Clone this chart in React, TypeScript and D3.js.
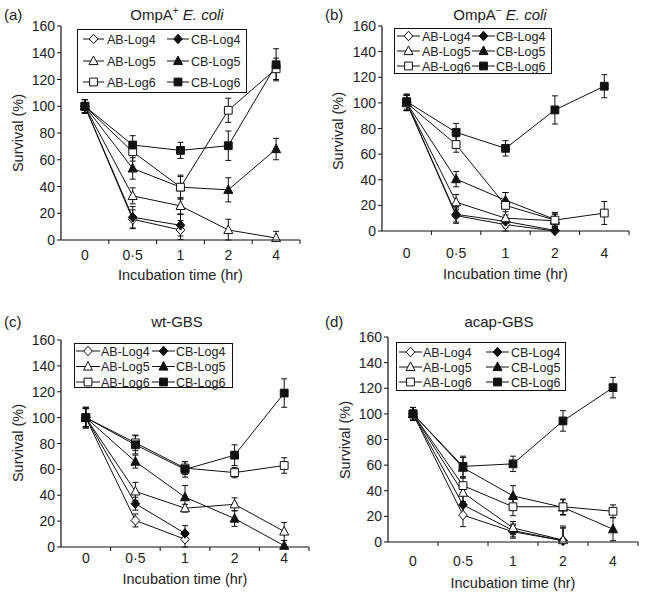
import React from "react";
import * as d3 from "d3";

// ---------- data ----------
const categories = ["0", "0·5", "1", "2", "4"];
const yTicks = [0, 20, 40, 60, 80, 100, 120, 140, 160];
const seriesNames = ["AB-Log4", "CB-Log4", "AB-Log5", "CB-Log5", "AB-Log6", "CB-Log6"];
const legendCol1 = ["AB-Log4", "AB-Log5", "AB-Log6"];
const legendCol2 = ["CB-Log4", "CB-Log5", "CB-Log6"];
const panelLetters = ["(a)", "(b)", "(c)", "(d)"];

// (a) OmpA+ E. coli — rows follow seriesNames
const aValues: (number | null)[][] = [
  [100, 15.5, 7.5, null, null],
  [100, 17, 11, null, null],
  [100, 33, 25.5, 7.5, 1.5],
  [100, 53.5, 39.5, 37.5, 68],
  [100, 66, 39.5, 97, 128],
  [100, 71, 67, 70.5, 131],
];
const aErrors: number[][] = [
  [5, 7, 7, 0, 0],
  [5, 8, 8, 0, 0],
  [5, 6, 6, 8, 5],
  [5, 8, 8, 9, 8],
  [5, 7, 9, 9, 8],
  [5, 7, 6, 11, 12],
];

// (b) OmpA− E. coli
const bValues: (number | null)[][] = [
  [100, 12, 5, 0, null],
  [100, 13, 7.5, 0.5, null],
  [100, 22.5, 10, 8, null],
  [100, 40.5, 24, 9, null],
  [100, 67.5, 20, 8.5, 14],
  [101, 77, 64.5, 94.5, 113],
];
const bErrors: number[][] = [
  [6, 6, 5, 3, 0],
  [6, 6, 5, 3, 0],
  [6, 6, 5, 5, 0],
  [6, 6, 6, 5, 0],
  [6, 6, 10, 6, 9],
  [6, 7, 6, 11, 9],
];

// (c) wt-GBS
const cValues: (number | null)[][] = [
  [100, 20.5, 6, null, null],
  [100, 33.5, 10.5, null, null],
  [100, 43, 30, 33, 12],
  [100, 66, 38.5, 22, 1],
  [100, 80.5, 61, 57.5, 63],
  [100, 79, 60, 71, 119],
];
const cErrors: number[][] = [
  [7, 5, 6, 0, 0],
  [7, 5, 6, 0, 0],
  [7, 7, 3, 5, 7],
  [7, 5, 9, 6, 4],
  [8, 6, 5, 4, 6],
  [8, 7, 6, 8, 11],
];

// (d) acap-GBS
const dValues: (number | null)[][] = [
  [100, 21, 8, 1, null],
  [100, 29, 9, 1, null],
  [100, 38.5, 11, 1.5, null],
  [100, 58, 36, 27, 10],
  [100, 44, 27.5, 27.5, 24],
  [100, 59, 61, 94.5, 120.5],
];
const dErrors: number[][] = [
  [5, 9, 5, 10, 0],
  [5, 9, 5, 10, 0],
  [5, 7, 5, 11, 0],
  [5, 8, 8, 6, 9],
  [5, 6, 7, 6, 5],
  [5, 8, 6, 8, 8],
];

// ---------- layout ----------
const FONT = "Arial, 'Liberation Sans', Helvetica, sans-serif";

type Layout = {
  left: number; right: number; top: number; bottom: number;
  letterX: number; titleX: number; titleY: number;
  yTitleX: number; yTitleY: number;
  xLabelY: number; xTitleY: number;
  legend: { x: number; y: number; w: number; h: number; rows: number[]; c1: [number, number, number]; c2: [number, number, number] };
};

const layouts: Layout[] = [
  {
    left: 61, right: 300, top: 26, bottom: 240,
    letterX: 4, titleX: 177, titleY: 20, yTitleX: 18, yTitleY: 133,
    xLabelY: 260, xTitleY: 280,
    legend: { x: 77.5, y: 29.5, w: 169, h: 63, rows: [39, 61, 82], c1: [83, 104, 107], c2: [167, 189, 191] },
  },
  {
    left: 382, right: 629, top: 26, bottom: 231,
    letterX: 325, titleX: 500, titleY: 20, yTitleX: 338, yTitleY: 131,
    xLabelY: 258, xTitleY: 279,
    legend: { x: 394.5, y: 28.5, w: 157, h: 45, rows: [36, 51, 66], c1: [397, 420, 422], c2: [472, 495, 496] },
  },
  {
    left: 61, right: 309, top: 340, bottom: 547,
    letterX: 4, titleX: 177, titleY: 327, yTitleX: 18, yTitleY: 443,
    xLabelY: 563, xTitleY: 584,
    legend: { x: 74.5, y: 343.5, w: 158, h: 44, rows: [351, 366.5, 382], c1: [76, 100, 101], c2: [152, 175, 176] },
  },
  {
    left: 388, right: 638, top: 337, bottom: 542,
    letterX: 325, titleX: 499, titleY: 327, yTitleX: 345, yTitleY: 440,
    xLabelY: 566, xTitleY: 588,
    legend: { x: 396.5, y: 342.5, w: 169, h: 48, rows: [352, 367, 382], c1: [399, 422, 423], c2: [486, 509, 511] },
  },
];

const panelValues = [aValues, bValues, cValues, dValues];
const panelErrors = [aErrors, bErrors, cErrors, dErrors];

function shapeOf(name: string) {
  if (name.endsWith("4")) return "diamond";
  if (name.endsWith("5")) return "triangle";
  return "square";
}
function isFilled(name: string) {
  return name.startsWith("CB");
}

function Marker({ name, x, y }: { name: string; x: number; y: number }) {
  const shape = shapeOf(name);
  const fill = isFilled(name) ? "#111" : "#fff";
  let d = "";
  if (shape === "diamond") {
    d = `M${x},${y - 4.8}L${x + 4.3},${y}L${x},${y + 4.8}L${x - 4.3},${y}Z`;
  } else if (shape === "triangle") {
    d = `M${x},${y - 5}L${x + 4.5},${y + 3.6}L${x - 4.5},${y + 3.6}Z`;
  } else {
    d = `M${x - 3.9},${y - 3.9}h7.8v7.8h-7.8Z`;
  }
  return <path d={d} fill={fill} stroke="#111" strokeWidth={1} />;
}

function PanelTitle({ idx }: { idx: number }) {
  const L = layouts[idx];
  const common = { fontFamily: FONT, fontSize: 15, fill: "#222" } as const;
  let content: React.ReactNode;
  if (idx === 0 || idx === 1) {
    content = (
      <>
        OmpA
        <tspan fontSize={10} dy={-6}>{idx === 0 ? "+" : "−"}</tspan>
        <tspan dy={6}> </tspan>
        <tspan fontStyle="italic">E. coli</tspan>
      </>
    );
  } else if (idx === 2) {
    content = "wt-GBS";
  } else {
    content = "acap-GBS";
  }
  return (
    <g>
      <text x={L.letterX} y={L.titleY} {...common}>{panelLetters[idx]}</text>
      <text x={L.titleX} y={L.titleY} textAnchor="middle" {...common}>{content}</text>
    </g>
  );
}

function Panel({ idx }: { idx: number }) {
  const L = layouts[idx];
  const values = panelValues[idx];
  const errors = panelErrors[idx];
  const x = d3.scaleBand<string>().domain(categories).range([L.left, L.right]).padding(0);
  const y = d3.scaleLinear().domain([0, 160]).range([L.bottom, L.top]);
  const cx = (c: string) => (x(c) as number) + x.bandwidth() / 2;
  const line = d3
    .line<number | null>()
    .defined((d) => d !== null)
    .x((_, i) => cx(categories[i]))
    .y((d) => y(d as number));
  const boundaries = [...categories.map((c) => x(c) as number), L.right];
  const stroke = "#111";

  return (
    <g>
      <PanelTitle idx={idx} />
      {/* series */}
      {seriesNames.map((name, si) => (
        <g key={name}>
          <path d={line(values[si]) || ""} fill="none" stroke={stroke} strokeWidth={1} />
          {values[si].map((v, i) => {
            if (v === null) return null;
            const e = errors[si][i];
            const px = cx(categories[i]);
            const y1 = y(Math.max(v + e, 0));
            const y2 = y(Math.max(v - e, 0));
            return (
              <g key={i}>
                <line x1={px} x2={px} y1={y1} y2={y2} stroke={stroke} strokeWidth={1} />
                <line x1={px - 3} x2={px + 3} y1={y1} y2={y1} stroke={stroke} strokeWidth={1} />
                <line x1={px - 3} x2={px + 3} y1={y2} y2={y2} stroke={stroke} strokeWidth={1} />
              </g>
            );
          })}
        </g>
      ))}
      {seriesNames.map((name, si) => (
        <g key={name + "m"}>
          {values[si].map((v, i) =>
            v === null ? null : <Marker key={i} name={name} x={cx(categories[i])} y={y(v)} />
          )}
        </g>
      ))}
      {/* axes */}
      <line x1={L.left} x2={L.left} y1={y(0)} y2={y(160)} stroke={stroke} strokeWidth={1.2} />
      <line x1={L.left} x2={L.right} y1={y(0)} y2={y(0)} stroke={stroke} strokeWidth={1.2} />
      {yTicks.map((t) => (
        <g key={t}>
          <line x1={L.left - 4} x2={L.left} y1={y(t)} y2={y(t)} stroke={stroke} strokeWidth={1} />
          <text x={L.left - 6} y={y(t)} dy="0.36em" textAnchor="end" fontFamily={FONT} fontSize={14} fill="#222">
            {t}
          </text>
        </g>
      ))}
      {boundaries.slice(1).map((bx, i) => (
        <line key={i} x1={bx} x2={bx} y1={y(0)} y2={y(0) + 4} stroke={stroke} strokeWidth={1} />
      ))}
      {categories.map((c) => (
        <text key={c} x={cx(c)} y={L.xLabelY} textAnchor="middle" fontFamily={FONT} fontSize={14} fill="#222">
          {c}
        </text>
      ))}
      <text
        x={(L.left + L.right) / 2}
        y={L.xTitleY}
        textAnchor="middle"
        fontFamily={FONT}
        fontSize={14.5}
        fill="#222"
      >
        Incubation time (hr)
      </text>
      <text
        transform={`translate(${L.yTitleX},${L.yTitleY}) rotate(-90)`}
        textAnchor="middle"
        dy="0.36em"
        fontFamily={FONT}
        fontSize={14.5}
        fill="#222"
      >
        Survival (%)
      </text>
      {/* legend */}
      <rect x={L.legend.x} y={L.legend.y} width={L.legend.w} height={L.legend.h} fill="#fff" stroke={stroke} strokeWidth={1} />
      {[legendCol1, legendCol2].map((col, ci) => {
        const [lx1, lx2, tx] = ci === 0 ? L.legend.c1 : L.legend.c2;
        return col.map((name, ri) => {
          const ry = L.legend.rows[ri];
          return (
            <g key={name}>
              <line x1={lx1} x2={lx2} y1={ry} y2={ry} stroke={stroke} strokeWidth={1} />
              <Marker name={name} x={(lx1 + lx2) / 2} y={ry} />
              <text x={tx} y={ry} dy="0.36em" fontFamily={FONT} fontSize={12.5} fill="#222">
                {name}
              </text>
            </g>
          );
        });
      })}
    </g>
  );
}

export default function App() {
  return (
    <svg
      width={646}
      height={595}
      viewBox="0 0 646 595"
      style={{ position: "absolute", left: 0, top: 0, background: "#fff" }}
    >
      <rect x={0} y={0} width={646} height={595} fill="#fff" />
      {[0, 1, 2, 3].map((i) => (
        <Panel key={i} idx={i} />
      ))}
    </svg>
  );
}
